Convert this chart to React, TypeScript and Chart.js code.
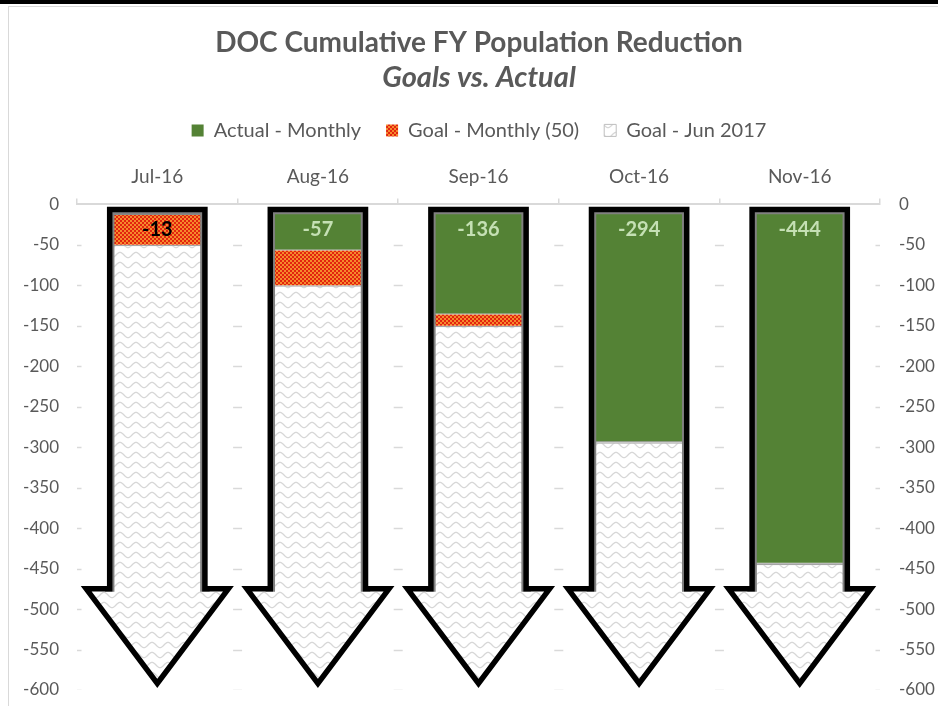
import React, { useEffect, useRef } from "react";
import { Chart, registerables } from "chart.js";

Chart.register(...registerables);

// ---- data ----
const categories = ["Jul-16", "Aug-16", "Sep-16", "Oct-16", "Nov-16"];
const actualMonthly = [-13, -57, -136, -294, -444];
const goalMonthly = [-37, -43, -14, 0, 0];
const goalJun2017 = [-550, -500, -450, -306, -156];
const seriesNames = ["Actual - Monthly", "Goal - Monthly (50)", "Goal - Jun 2017"];
const yMin = -600;
const yMax = 0;
const yStep = 50;
const titleText = "DOC Cumulative FY Population Reduction";
const subtitleText = "Goals vs. Actual";

// ---- style ----
const FONT = "Lato, 'Open Sans', sans-serif";
const TEXT = "#595959";
const GREEN = "#548235";
const LABEL_GREEN = "#c5e0b4";
const AXIS_GRAY = "#d9d9d9";
const HEAD_START = -475; // value where the arrowhead begins
const TIP = -592; // value of arrow tip (stroke centre)
const SHAFT_RATIO = 0.67; // shaft width relative to arrowhead width
const TOP_INSET = 5; // px below the zero line where the arrow starts

function makeChecker(ctx: CanvasRenderingContext2D) {
  const c = document.createElement("canvas");
  c.width = 4;
  c.height = 4;
  const g = c.getContext("2d")!;
  g.fillStyle = "#f58a2c";
  g.fillRect(0, 0, 4, 4);
  g.fillStyle = "#e3230f";
  g.fillRect(0, 0, 2, 2);
  g.fillRect(2, 2, 2, 2);
  return ctx.createPattern(c, "repeat")!;
}

function makeZigzag(ctx: CanvasRenderingContext2D) {
  const c = document.createElement("canvas");
  c.width = 16;
  c.height = 10;
  const g = c.getContext("2d")!;
  g.fillStyle = "#ffffff";
  g.fillRect(0, 0, 16, 10);
  g.strokeStyle = "#d7d7d7";
  g.lineWidth = 1.3;
  g.beginPath();
  for (let x = -2; x <= 18; x += 0.5) {
    const y = 5 + 2.6 * Math.cos((2 * Math.PI * x) / 16);
    if (x === -2) g.moveTo(x, y);
    else g.lineTo(x, y);
  }
  g.stroke();
  return ctx.createPattern(c, "repeat")!;
}

function arrowGeometry(chart: any) {
  const ys = chart.scales.y;
  const meta = chart.getDatasetMeta(0);
  const yTop = ys.getPixelForValue(0) + TOP_INSET;
  const yShoulder = ys.getPixelForValue(HEAD_START);
  const yTip = ys.getPixelForValue(TIP);
  return meta.data.map((el: any) => {
    const { x, width } = el.getProps(["x", "width"], true);
    const half = width / 2;
    return { x, half, s: half * SHAFT_RATIO, yTop, yShoulder, yTip };
  });
}

function arrowPaths(chart: any) {
  const ctx = chart.ctx as CanvasRenderingContext2D;
  ctx.beginPath();
  arrowGeometry(chart).forEach((a: any) => {
    ctx.moveTo(a.x - a.s, a.yTop);
    ctx.lineTo(a.x + a.s, a.yTop);
    ctx.lineTo(a.x + a.s, a.yShoulder);
    ctx.lineTo(a.x + a.half, a.yShoulder);
    ctx.lineTo(a.x, a.yTip);
    ctx.lineTo(a.x - a.half, a.yShoulder);
    ctx.lineTo(a.x - a.s, a.yShoulder);
    ctx.closePath();
  });
}

const arrowPlugin = {
  id: "arrowPlugin",
  beforeDatasetsDraw(chart: any) {
    const ctx = chart.ctx as CanvasRenderingContext2D;
    const xs = chart.scales.x;
    const ys = chart.scales.y;
    const area = chart.chartArea;
    // short dashed gridline marks at category boundaries
    ctx.save();
    ctx.beginPath();
    ctx.rect(area.left, area.top, area.right - area.left, area.bottom - area.top);
    ctx.clip();
    ctx.strokeStyle = AXIS_GRAY;
    ctx.lineWidth = 1.5;
    ctx.beginPath();
    ys.ticks.forEach((t: any) => {
      if (t.value === 0) return;
      const py = Math.round(ys.getPixelForValue(t.value)) + 0.5;
      for (let b = 0; b <= categories.length; b++) {
        const px = xs.getPixelForValue(b - 0.5);
        ctx.moveTo(px - 4.5, py);
        ctx.lineTo(px + 4.5, py);
      }
    });
    ctx.stroke();
    ctx.restore();

    ctx.save();
    arrowPaths(chart);
    ctx.clip();
  },
  afterDatasetsDraw(chart: any) {
    const ctx = chart.ctx as CanvasRenderingContext2D;
    // grey bar border inside the shaft (still clipped to the arrows)
    ctx.beginPath();
    arrowGeometry(chart).forEach((a: any) => {
      ctx.moveTo(a.x - a.s, a.yShoulder + 3);
      ctx.lineTo(a.x - a.s, a.yTop);
      ctx.lineTo(a.x + a.s, a.yTop);
      ctx.lineTo(a.x + a.s, a.yShoulder + 3);
    });
    ctx.strokeStyle = "#808080";
    ctx.lineWidth = 9.5;
    ctx.stroke();
    ctx.restore();

    ctx.save();
    ctx.lineJoin = "miter";
    ctx.miterLimit = 10;
    arrowPaths(chart);
    ctx.strokeStyle = "#000000";
    ctx.lineWidth = 5.5;
    ctx.stroke();
    ctx.restore();

    // data labels for actual values
    const ys = chart.scales.y;
    const meta = chart.getDatasetMeta(0);
    ctx.save();
    ctx.font = `bold 20px ${FONT}`;
    ctx.textAlign = "center";
    ctx.textBaseline = "middle";
    const ly = ys.getPixelForValue(0) + 25;
    meta.data.forEach((el: any, i: number) => {
      const { x } = el.getProps(["x"], true);
      const v = actualMonthly[i];
      const onGreen = ys.getPixelForValue(v) > ly + 8;
      ctx.fillStyle = onGreen ? LABEL_GREEN : "#000000";
      ctx.fillText(String(v), x, ly);
    });
    ctx.restore();
  },
};

export default function App() {
  const ref = useRef<HTMLCanvasElement>(null);

  useEffect(() => {
    const canvas = ref.current!;
    const ctx = canvas.getContext("2d")!;
    const checker = makeChecker(ctx);
    const zigzag = makeZigzag(ctx);

    const chart = new Chart(canvas, {
      type: "bar",
      data: {
        labels: categories,
        datasets: [
          {
            label: seriesNames[0],
            data: actualMonthly,
            backgroundColor: GREEN,
            borderColor: "#8a8a8a",
            borderWidth: 1,
            borderSkipped: false,
          },
          {
            label: seriesNames[1],
            data: goalMonthly,
            backgroundColor: checker as any,
            borderWidth: 0,
          },
          {
            label: seriesNames[2],
            data: goalJun2017,
            backgroundColor: zigzag as any,
            borderColor: "#a6a6a6",
            borderWidth: 1.5,
            borderSkipped: false,
          },
        ],
      },
      options: {
        animation: false,
        responsive: true,
        maintainAspectRatio: false,
        datasets: {
          bar: { barPercentage: 1, categoryPercentage: 0.885 },
        },
        layout: { padding: { left: 20, right: 0, top: 0, bottom: 16 } },
        plugins: {
          title: {
            display: true,
            text: titleText,
            color: TEXT,
            font: { family: FONT, size: 28, weight: "bold" },
            padding: { top: 26, bottom: 0 },
          },
          subtitle: {
            display: true,
            text: subtitleText,
            color: TEXT,
            font: { family: FONT, size: 29, weight: "bold", style: "italic" },
            padding: { top: 1, bottom: 0 },
          },
          legend: {
            display: true,
            position: "top",
            labels: {
              boxWidth: 12,
              boxHeight: 12,
              padding: 25,
              color: TEXT,
              font: { family: FONT, size: 20 },
              generateLabels: (c: any) =>
                c.data.datasets.map((ds: any, i: number) => ({
                  text: ds.label,
                  fillStyle: ds.backgroundColor,
                  strokeStyle: i === 2 ? "#bfbfbf" : ds.backgroundColor,
                  lineWidth: i === 2 ? 1 : 0,
                  hidden: false,
                  datasetIndex: i,
                  fontColor: TEXT,
                })),
            },
          },
          tooltip: { enabled: false },
        },
        scales: {
          x: {
            position: "top",
            stacked: true,
            offset: true,
            grid: {
              offset: true,
              drawOnChartArea: false,
              drawTicks: true,
              tickLength: 6,
              color: AXIS_GRAY,
              lineWidth: 1.5,
            },
            border: { display: true, color: AXIS_GRAY, width: 2 },
            ticks: { color: TEXT, font: { family: FONT, size: 19 }, padding: 10 },
            afterFit: (s: any) => {
              s.height = 54;
            },
          },
          y: {
            position: "left",
            stacked: true,
            min: yMin,
            max: yMax,
            ticks: { stepSize: yStep, color: TEXT, font: { family: FONT, size: 17 }, padding: 18 },
            grid: { display: false, drawTicks: false },
            border: { display: false },
            afterFit: (s: any) => {
              s.width = 57;
              s.paddingTop = 0;
              s.paddingBottom = 0;
            },
          },
          y2: {
            position: "right",
            min: yMin,
            max: yMax,
            ticks: { stepSize: yStep, color: TEXT, font: { family: FONT, size: 17 }, padding: 19 },
            grid: { display: false, drawTicks: false },
            border: { display: false },
            afterFit: (s: any) => {
              s.width = 58;
              s.paddingTop = 0;
              s.paddingBottom = 0;
            },
          },
        },
      } as any,
      plugins: [arrowPlugin],
    });
    return () => chart.destroy();
  }, []);

  return (
    <div
      style={{
        position: "absolute",
        left: 0,
        top: 0,
        width: 938,
        height: 706,
        overflow: "hidden",
        background: "#ffffff",
      }}
    >
      <div style={{ position: "absolute", left: 0, top: 0, width: 938, height: 4, background: "#000" }} />
      <div
        style={{
          position: "absolute",
          left: 8,
          top: 6,
          width: 1000,
          height: 800,
          border: `1px solid ${AXIS_GRAY}`,
          boxSizing: "border-box",
        }}
      />
      <div style={{ position: "absolute", left: 0, top: 0, width: 938, height: 706 }}>
        <canvas ref={ref} />
      </div>
    </div>
  );
}
